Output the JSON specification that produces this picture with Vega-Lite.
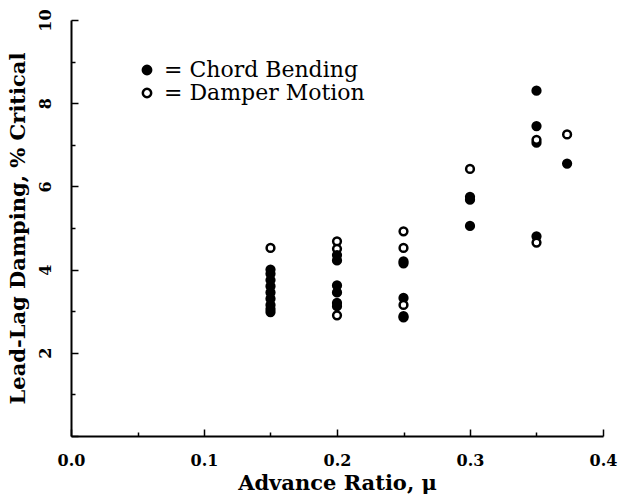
{
  "$schema": "https://vega.github.io/schema/vega-lite/v6.json",
  "width": 532,
  "height": 416,
  "autosize": {"type": "none"},
  "padding": {"left": 71, "top": 20, "right": 20, "bottom": 60},
  "background": "white",
  "config": {
    "view": {"stroke": null},
    "axis": {
      "domainColor": "black",
      "domainWidth": 2,
      "tickColor": "black",
      "tickWidth": 1.5,
      "grid": false,
      "labelFont": "DejaVu Serif",
      "labelFontWeight": "bold",
      "labelFontSize": 16,
      "labelColor": "black",
      "titleFont": "DejaVu Serif",
      "titleFontWeight": "bold",
      "titleFontSize": 21,
      "titleColor": "black"
    }
  },
  "data": {
    "values": [
      {"mu": 0.15, "damping": 4.0, "series": "Chord Bending"},
      {"mu": 0.15, "damping": 3.9, "series": "Chord Bending"},
      {"mu": 0.15, "damping": 3.75, "series": "Chord Bending"},
      {"mu": 0.15, "damping": 3.6, "series": "Chord Bending"},
      {"mu": 0.15, "damping": 3.45, "series": "Chord Bending"},
      {"mu": 0.15, "damping": 3.3, "series": "Chord Bending"},
      {"mu": 0.15, "damping": 3.15, "series": "Chord Bending"},
      {"mu": 0.15, "damping": 3.05, "series": "Chord Bending"},
      {"mu": 0.15, "damping": 2.98, "series": "Chord Bending"},
      {"mu": 0.15, "damping": 4.52, "series": "Damper Motion"},
      {"mu": 0.2, "damping": 4.68, "series": "Damper Motion"},
      {"mu": 0.2, "damping": 4.5, "series": "Damper Motion"},
      {"mu": 0.2, "damping": 4.35, "series": "Chord Bending"},
      {"mu": 0.2, "damping": 4.22, "series": "Chord Bending"},
      {"mu": 0.2, "damping": 3.62, "series": "Chord Bending"},
      {"mu": 0.2, "damping": 3.45, "series": "Chord Bending"},
      {"mu": 0.2, "damping": 3.2, "series": "Chord Bending"},
      {"mu": 0.2, "damping": 3.12, "series": "Chord Bending"},
      {"mu": 0.2, "damping": 2.9, "series": "Damper Motion"},
      {"mu": 0.25, "damping": 4.92, "series": "Damper Motion"},
      {"mu": 0.25, "damping": 4.52, "series": "Damper Motion"},
      {"mu": 0.25, "damping": 4.2, "series": "Chord Bending"},
      {"mu": 0.25, "damping": 4.15, "series": "Chord Bending"},
      {"mu": 0.25, "damping": 3.32, "series": "Chord Bending"},
      {"mu": 0.25, "damping": 3.15, "series": "Damper Motion"},
      {"mu": 0.25, "damping": 2.88, "series": "Chord Bending"},
      {"mu": 0.25, "damping": 2.85, "series": "Chord Bending"},
      {"mu": 0.3, "damping": 6.42, "series": "Damper Motion"},
      {"mu": 0.3, "damping": 5.75, "series": "Chord Bending"},
      {"mu": 0.3, "damping": 5.68, "series": "Chord Bending"},
      {"mu": 0.3, "damping": 5.05, "series": "Chord Bending"},
      {"mu": 0.35, "damping": 8.3, "series": "Chord Bending"},
      {"mu": 0.35, "damping": 7.45, "series": "Chord Bending"},
      {"mu": 0.35, "damping": 7.05, "series": "Chord Bending"},
      {"mu": 0.35, "damping": 7.12, "series": "Damper Motion"},
      {"mu": 0.35, "damping": 4.8, "series": "Chord Bending"},
      {"mu": 0.35, "damping": 4.65, "series": "Damper Motion"},
      {"mu": 0.373, "damping": 7.25, "series": "Damper Motion"},
      {"mu": 0.373, "damping": 6.55, "series": "Chord Bending"}
    ]
  },
  "mark": {"type": "point", "filled": true, "stroke": "black", "strokeWidth": 2.5, "size": 60, "opacity": 1},
  "encoding": {
    "x": {
      "field": "mu",
      "type": "quantitative",
      "title": "Advance Ratio, μ",
      "scale": {"domain": [0, 0.4], "nice": false, "zero": false},
      "axis": {
        "values": [0, 0.05, 0.1, 0.15, 0.2, 0.25, 0.3, 0.35, 0.4],
        "labelExpr": "round(datum.value*100) % 10 == 0 ? format(datum.value, '.1f') : ''",
        "tickSize": {"condition": {"test": "round(datum.value*100) % 10 == 0", "value": -7}, "value": -4},
        "labelPadding": 23,
        "labelFlush": false,
        "labelOverlap": false,
        "titlePadding": 1
      }
    },
    "y": {
      "field": "damping",
      "type": "quantitative",
      "title": "Lead-Lag Damping, % Critical",
      "scale": {"domain": [0, 10], "nice": false},
      "axis": {
        "values": [0, 1, 2, 3, 4, 5, 6, 7, 8, 9, 10],
        "labelExpr": "datum.value % 2 == 0 && datum.value > 0 ? format(datum.value, 'd') : ''",
        "tickSize": {"condition": {"test": "datum.value % 2 == 0", "value": -7}, "value": -4},
        "labelAngle": 270,
        "labelAlign": "center",
        "labelBaseline": "bottom",
        "labelPadding": 25,
        "labelFlush": false,
        "labelOverlap": false,
        "titlePadding": 6
      }
    },
    "fill": {
      "field": "series",
      "type": "nominal",
      "scale": {"domain": ["Chord Bending", "Damper Motion"], "range": ["black", "white"]},
      "legend": {
        "orient": "none",
        "legendX": 65,
        "legendY": 39,
        "title": null,
        "labelExpr": "'= ' + datum.label",
        "labelFont": "DejaVu Serif",
        "labelFontSize": 22,
        "labelColor": "black",
        "labelLimit": 0,
        "symbolType": "circle",
        "symbolSize": 70,
        "symbolStrokeColor": "black",
        "symbolStrokeWidth": 2.5,
        "rowPadding": 1,
        "labelOffset": 6
      }
    }
  }
}
